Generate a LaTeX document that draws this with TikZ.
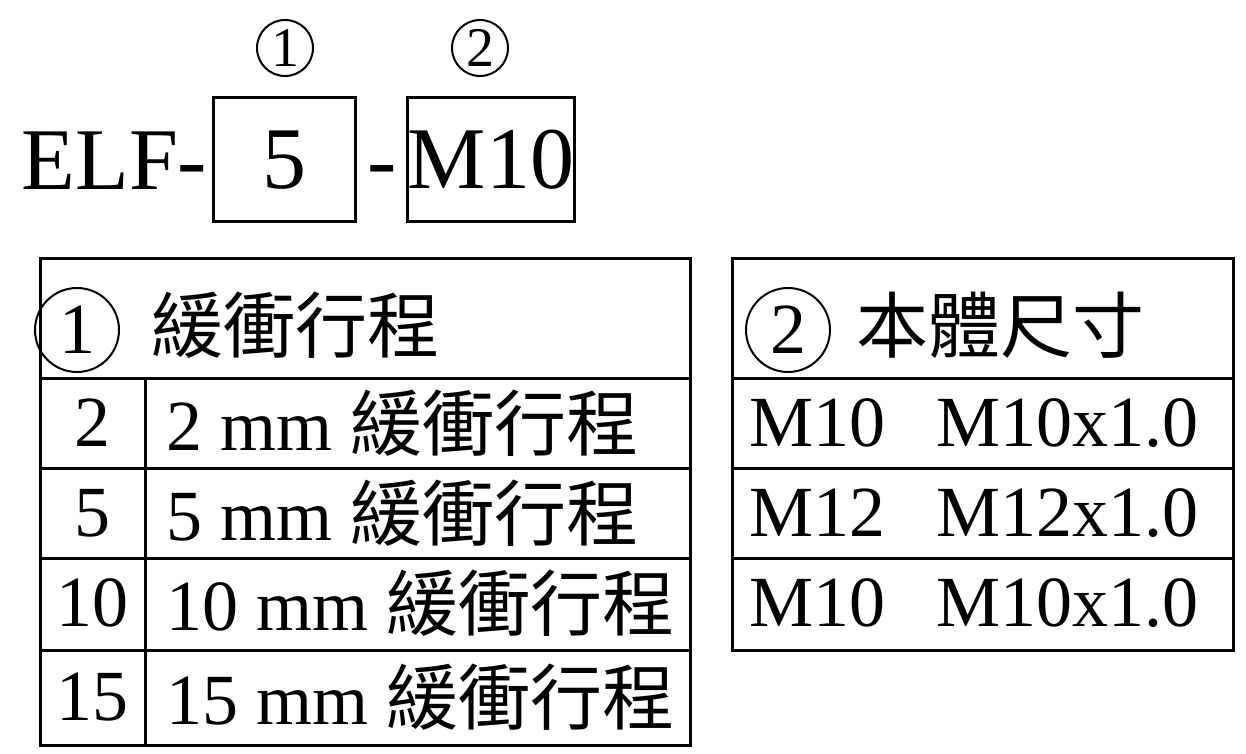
\documentclass[tikz,border=0pt]{standalone}
\usepackage{fontspec}
\setmainfont{Liberation Serif}
\newfontfamily\cjk{Noto Sans CJK TC}
\usetikzlibrary{positioning}
\tikzset{
	big/.style={font=\fontsize{44}{44}\selectfont, inner sep=0pt}, % texto del codigo
	tab/.style={font=\fontsize{36}{36}\selectfont, inner sep=0pt, anchor=west}, % texto de tablas
	num/.style={circle, draw, line width=1pt, inner sep=0pt, font=\fontsize{28}{28}\selectfont}
}
\begin{document}
\begin{tikzpicture}[x=0.5pt,y=-0.5pt, line width=1.5pt]
	\useasboundingbox (0,0) rectangle (1246,754);
	% codigo
	\node[big, anchor=base west] (elf) at (20,190) {ELF-};
	\node[draw, minimum width=71pt, minimum height=62pt, big] (b1) at (284,160) {5};
	\node[big, anchor=base] (dash) at (382,190) {-};
	\node[draw, minimum width=83pt, minimum height=62pt, big] (b2) at (491,160) {M10};
	\node[num, minimum size=28pt] (c1) at (285,48) {1};
	\node[num, minimum size=28pt] (c2) at (480,48) {2};
	% tabla 1
	\draw (40,258) rectangle (690,745);
	\foreach \y in {378,468,558,650} \draw (40,\y) -- (690,\y);
	\draw (145,378) -- (145,745);
	\node[num, minimum size=42pt, font=\fontsize{36}{36}\selectfont] (h1) at (77,330) {1};
	\node[tab] (t1) at (150,325) {\cjk 緩衝行程};
	\foreach \a/\y in {2/423,5/513,10/603,15/697} {
		\node[tab, anchor=center] (r\a) at (92,\y) {\a};
		\node[tab] (s\a) at (165,\y) {\a{} mm \cjk 緩衝行程};
	}
	% tabla 2
	\draw (732,258) rectangle (1233,650);
	\foreach \y in {378,468,558} \draw (732,\y) -- (1233,\y);
	\node[num, minimum size=42pt, font=\fontsize{36}{36}\selectfont] (h2) at (788,330) {2};
	\node[tab] (t2) at (855,325) {\cjk 本體尺寸};
	\foreach \m/\y in {M10/423,M12/513,M10/603} {
		\node[tab] (m\y) at (748,\y) {\m};
		\node[tab] (n\y) at (935,\y) {\m x1.0};
	}
\end{tikzpicture}
\end{document}
